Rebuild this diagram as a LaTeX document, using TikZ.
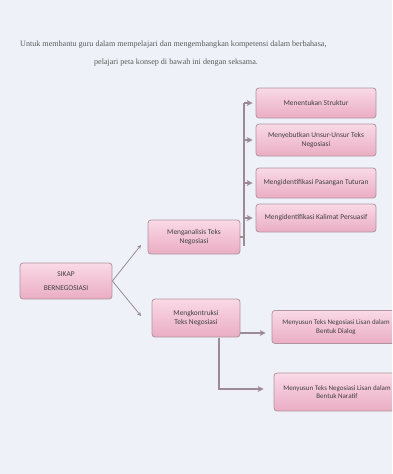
\documentclass[tikz,border=0pt]{standalone}
\usepackage{fontspec}
\setmainfont{Liberation Serif}
\newfontfamily\boxfont{Carlito}
\usetikzlibrary{arrows.meta}

\definecolor{paper}{HTML}{EEF2F8}
\definecolor{boxtop}{HTML}{FAD9E6}
\definecolor{boxbot}{HTML}{EAADC3}
\definecolor{boxline}{HTML}{B0949F}
\definecolor{linkgray}{HTML}{9C8A94}

\tikzset{
  concept/.style={rectangle, rounded corners=3pt, draw=boxline, thick,
    top color=boxtop, bottom color=boxbot, align=center,
    font=\boxfont\fontsize{7.4}{9}\selectfont, text=black!75, inner sep=2pt},
  link/.style={draw=linkgray, line width=1.4pt, -{Stealth[length=6pt,width=6pt]}},
  thinlink/.style={draw=linkgray, line width=0.8pt, -{Stealth[length=4pt,width=4pt]}}
}

\begin{document}
\begin{tikzpicture}[x=1pt,y=-1pt]
\useasboundingbox (0,0) rectangle (392,474);
\fill[paper] (0,0) rectangle (392,474);
\clip (0,0) rectangle (392,474);

% petunjuk
\node[font=\fontsize{8.1}{10}\selectfont, text=black!65, anchor=west, inner sep=0pt] (intro1) at (20,45)
  {Untuk membantu guru dalam mempelajari dan mengembangkan kompetensi dalam berbahasa,};
\node[font=\fontsize{8.1}{10}\selectfont, text=black!65, inner sep=0pt] (intro2) at (176,63)
  {pelajari peta konsep di bawah ini dengan seksama.};

\begin{scope}[every node/.style={concept}]
  \node[minimum width=92pt, minimum height=36pt] (root) at (66,281) {SIKAP\\[5pt]BERNEGOSIASI};

  \node[minimum width=92pt, minimum height=34pt] (anal) at (194,237) {Menganalisis Teks\\Negosiasi};
  \node[minimum width=88pt, minimum height=38pt] (kons) at (196,318) {Mengkontruksi\\Teks Negosiasi};

  \node[minimum width=120pt, minimum height=30pt] (sub0) at (316,103) {Menentukan Struktur};
  \node[minimum width=120pt, minimum height=32pt] (sub1) at (316,140) {Menyebutkan Unsur-Unsur Teks\\Negosiasi};
  \node[minimum width=120pt, minimum height=30pt] (sub2) at (316,183) {Mengidentifikasi Pasangan Tuturan};
  \node[minimum width=120pt, minimum height=28pt] (sub3) at (316,218) {Mengidentifikasi Kalimat Persuasif};

  \node[minimum width=128pt, minimum height=33pt, font=\boxfont\fontsize{7}{8.6}\selectfont] (dial) at (336,327) {Menyusun Teks Negosiasi Lisan dalam\\Bentuk Dialog};
  \node[minimum width=126pt, minimum height=38pt, font=\boxfont\fontsize{7}{8.6}\selectfont] (narr) at (337,392) {Menyusun Teks Negosiasi Lisan dalam\\Bentuk Naratif};
\end{scope}

% cabang utama
\coordinate (fork) at (root.east);
\draw[thinlink] (fork) -- (141,245);
\draw[thinlink] (fork) -- (141,316);

% tiang kanan atas
\coordinate (barTop) at (244,103);
\coordinate (barBot) at (244,246);
\draw[linkgray, line width=1.4pt] (barTop) -- (barBot);
\draw[linkgray, line width=1.4pt] (anal.east) -- (anal.east -| barTop);
\foreach \s in {sub0,sub1,sub2,sub3}
  \draw[link] (\s.west -| barTop) -- ([xshift=-3pt]\s.west);

% cabang bawah
\draw[link] (kons.south east |- 0,333) -- ([xshift=-6pt]dial.west |- 0,333);
\draw[link] (219,338) -- (219,389) -- ([xshift=-10pt]narr.west |- 0,389);

\end{tikzpicture}
\end{document}
